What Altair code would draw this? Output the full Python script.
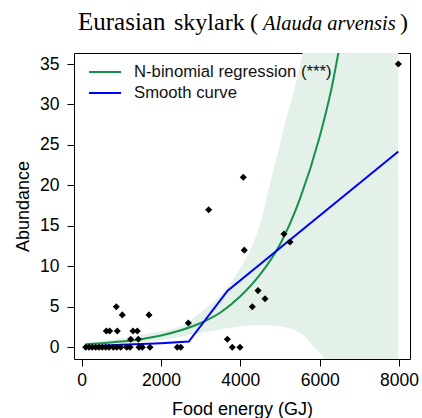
import altair as alt
import pandas as pd

# Observed abundance vs food energy (GJ)
obs_energy = [101, 184, 267, 353, 436, 519, 605, 688, 797, 883, 983, 1135, 1220,
              1445, 1528, 1722, 2410, 2496, 3797, 3991,
              1235, 1428,
              621, 706, 898, 1294, 1402,
              1024, 1697,
              873,
              2689, 3672, 4302, 4446, 4622,
              3202, 4075, 4100, 5101, 5252, 7984]
obs_abund = [0, 0, 0, 0, 0, 0, 0, 0, 0, 0, 0, 0, 0,
             0, 0, 0, 0, 0, 0, 0,
             1, 1,
             2, 2, 2, 2, 2,
             4, 4,
             5,
             3, 1, 5, 7, 6,
             17, 21, 12, 14, 13, 35]

# Negative-binomial regression fit and its confidence band
fit_energy = [100, 500, 1000, 1500, 2000, 2500, 3000, 3500, 4000, 4500, 5000, 5500, 6000, 6300, 6550]
fit_abund = [0.38, 0.5, 0.7, 1.0, 1.45, 2.1, 3.0, 4.3, 6.3, 9.0, 12.7, 18.3, 26.0, 32.0, 38.5]

band_energy = [100, 1000, 2000, 2500, 3000, 3500, 3750, 4000, 4250, 4550, 4750, 5000, 5170,
               5250, 5590, 5850, 6100, 6400, 7984]
band_low = [0.25, 0.45, 0.9, 1.3, 1.75, 2.2, 2.4, 2.6, 2.7, 2.75, 2.72, 2.6, 2.45,
            2.35, 1.5, 0.1, -1.2, -3.5, -10]
band_high = [0.55, 1.1, 2.0, 2.6, 4.3, 6.5, 7.9, 9.8, 12.0, 16.1, 20.3, 25.0, 28.5,
             29.8, 36.8, 43, 50, 56, 60]

# Smooth curve
smooth_energy = [100, 1000, 2000, 2700, 3680, 7984]
smooth_abund = [0.1, 0.3, 0.5, 0.7, 7.0, 24.2]

x_ticks = [0, 2000, 4000, 6000, 8000]
y_ticks = [0, 5, 10, 15, 20, 25, 30, 35]

GREEN = "#17904a"
BLUE = "#0000ff"
BAND = "#e3f1e9"
SANS = "Liberation Sans"
SERIF = "Liberation Serif"

obs = pd.DataFrame({"energy": obs_energy, "abund": obs_abund})
fit = pd.DataFrame({"energy": fit_energy, "abund": fit_abund})
band = pd.DataFrame({"energy": band_energy, "low": band_low, "high": band_high})
smooth = pd.DataFrame({"energy": smooth_energy, "abund": smooth_abund})

xs = alt.Scale(domain=[-194, 8278], nice=False, zero=False)
ys = alt.Scale(domain=[-1.45, 36.36], nice=False, zero=False)

x_axis = alt.Axis(values=x_ticks, format="d", title="Food energy (GJ)", grid=False,
                  domain=False, tickSize=7, tickColor="black", labelFont=SANS,
                  labelFontSize=17.5, labelColor="black", labelPadding=5,
                  titleFont=SANS, titleFontSize=18, titleFontWeight="normal",
                  titleColor="black", titleX=168, titleY=55,
                  titleBaseline="alphabetic", labelFlush=False)
y_axis = alt.Axis(values=y_ticks, format="d", title="Abundance", grid=False, domain=False,
                  tickSize=7, tickColor="black", labelFont=SANS, labelFontSize=17.5,
                  labelColor="black", labelPadding=8, labelAngle=0,
                  titleFont=SANS, titleFontSize=18, titleFontWeight="normal",
                  titleColor="black", titleX=-45.7, titleY=153, titleAngle=-90,
                  titleBaseline="alphabetic", titleAlign="center", labelFlush=False)

band_layer = alt.Chart(band).mark_area(color=BAND, opacity=1, clip=True,
                                       interpolate="monotone").encode(
    x=alt.X("energy:Q", scale=xs, axis=x_axis),
    y=alt.Y("low:Q", scale=ys, axis=y_axis),
    y2="high:Q",
)

fit_layer = alt.Chart(fit).mark_line(color=GREEN, strokeWidth=2, clip=True,
                                     interpolate="monotone").encode(
    x=alt.X("energy:Q", scale=xs), y=alt.Y("abund:Q", scale=ys))

smooth_layer = alt.Chart(smooth).mark_line(color=BLUE, strokeWidth=2, clip=True).encode(
    x=alt.X("energy:Q", scale=xs), y=alt.Y("abund:Q", scale=ys))

points = alt.Chart(obs).mark_point(shape="diamond", filled=True, color="black",
                                   size=50, opacity=1).encode(
    x=alt.X("energy:Q", scale=xs), y=alt.Y("abund:Q", scale=ys))

# Legend drawn inside the plot, top-left
legend_labels = ["N-binomial regression (***)", "Smooth curve"]
legend_colors = [GREEN, BLUE]
legend_rows = [19, 40]
legend_layers = []
for lab, col, ry in zip(legend_labels, legend_colors, legend_rows):
    legend_layers.append(
        alt.Chart(pd.DataFrame({"k": [0]})).mark_rule(color=col, strokeWidth=2).encode(
            x=alt.value(15), x2=alt.value(47), y=alt.value(ry)))
    legend_layers.append(
        alt.Chart(pd.DataFrame({"k": [0]})).mark_text(
            text=lab, align="left", baseline="middle", font=SANS, fontSize=16.7,
            color="#111111").encode(x=alt.value(60), y=alt.value(ry)))

# Title with the Latin name in italics
title_parts = [("Eurasian", 4, "normal", 25),
               ("skylark", 100, "normal", 24),
               ("(", 176, "normal", 24),
               ("Alauda arvensis", 189, "italic", 20.5),
               (")", 326, "normal", 24)]
title_layers = [
    alt.Chart(pd.DataFrame({"k": [0]})).mark_text(
        text=t, align="left", baseline="alphabetic", font=SERIF, fontSize=fs,
        fontStyle=st, color="black").encode(x=alt.value(px), y=alt.value(-23))
    for t, px, st, fs in title_parts
]

chart = alt.layer(band_layer, fit_layer, smooth_layer, points,
                  *legend_layers, *title_layers).properties(
    width=336, height=306,
    autosize=alt.AutoSizeParams(type="none"),
    padding={"left": 74, "top": 53, "right": 12, "bottom": 59},
    background="white",
).configure_view(stroke="black", strokeWidth=1)

chart.save("out.html", embed_options={"renderer": "svg", "actions": False})
